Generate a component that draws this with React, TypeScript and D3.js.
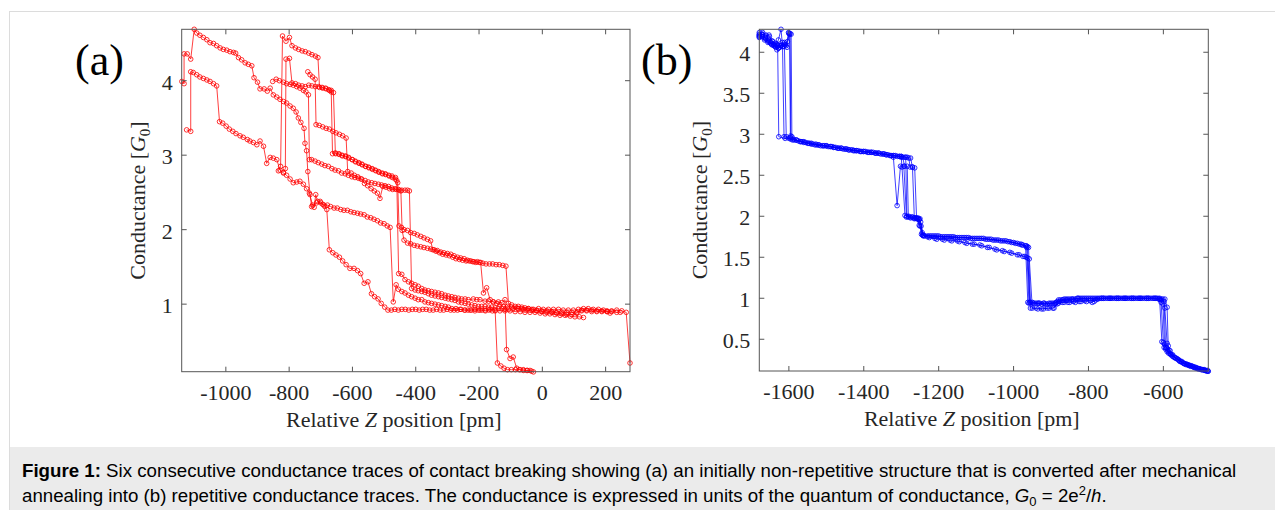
import React from 'react';
import * as d3 from 'd3';

type Pt = [number, number];

// (a) six breaking traces before annealing: [relative Z (pm), conductance (G0)]
const tracesA: Pt[][] = [
  [[-1139,3.99],[-1132,3.96],[-1132,4.36],[-1122,4.36],[-1111,4.29],[-1100,4.69],[-1092,4.64],[-1082,4.61],[-1071,4.58],[-1060,4.55],[-1050,4.51],[-1039,4.50],[-1029,4.47],[-1018,4.44],[-1008,4.42],[-997,4.41],[-987,4.39],[-976,4.38],[-969,4.37],[-960,4.31],[-950,4.28],[-939,4.24],[-929,4.22],[-918,4.20],[-911,4.04],[-900,3.98],[-892,3.89],[-879,3.89],[-869,3.86],[-860,3.90],[-850,3.81],[-839,3.78],[-829,3.75],[-818,3.72],[-808,3.70],[-797,3.66],[-787,3.63],[-778,3.58],[-771,3.50],[-763,3.44],[-753,3.36],[-750,3.16],[-745,3.06],[-741,2.78],[-734,2.47],[-729,2.31],[-721,2.30],[-716,2.47],[-710,2.38],[-702,2.38],[-694,2.34],[-687,2.31],[-681,2.27],[-673,1.73],[-662,1.69],[-652,1.66],[-641,1.63],[-631,1.58],[-620,1.53],[-608,1.48],[-595,1.48],[-584,1.45],[-574,1.41],[-563,1.28],[-551,1.30],[-540,1.14],[-530,1.10],[-519,1.07],[-509,1.01],[-498,0.96],[-488,0.92],[-477,0.92],[-466,0.93],[-455,0.92],[-444,0.93],[-433,0.93],[-422,0.92],[-411,0.93],[-400,0.93],[-389,0.92],[-378,0.93],[-367,0.93],[-356,0.92],[-345,0.92],[-334,0.93],[-323,0.92],[-312,0.92],[-301,0.93],[-290,0.92],[-279,0.92],[-268,0.92],[-257,0.93],[-246,0.92],[-235,0.92],[-224,0.92],[-213,0.91],[-202,0.92],[-191,0.92],[-180,0.91],[-169,0.92],[-158,0.91],[-149,0.91],[-142,0.21],[-131,0.17],[-121,0.14],[-110,0.12],[-98,0.12],[-85,0.12],[-73,0.12],[-60,0.11],[-47,0.11],[-34,0.10]],
  [[-1124,3.34],[-1111,3.32],[-1111,4.12],[-1103,4.11],[-1092,4.08],[-1082,4.05],[-1071,4.03],[-1060,4.01],[-1050,3.99],[-1039,3.96],[-1029,3.93],[-1020,3.45],[-1010,3.43],[-999,3.39],[-989,3.35],[-978,3.32],[-968,3.29],[-955,3.26],[-945,3.24],[-932,3.21],[-924,3.19],[-913,3.17],[-902,3.14],[-892,3.19],[-881,3.12],[-871,2.89],[-860,2.97],[-850,2.96],[-839,2.94],[-829,2.80],[-818,2.76],[-808,2.73],[-797,2.68],[-787,2.63],[-776,2.64],[-766,2.65],[-755,2.61],[-745,2.55],[-736,2.49],[-726,2.33],[-713,2.36],[-700,2.36],[-690,2.33],[-679,2.33],[-669,2.31],[-658,2.29],[-648,2.29],[-637,2.27],[-627,2.26],[-616,2.26],[-605,2.24],[-595,2.23],[-584,2.22],[-574,2.21],[-563,2.20],[-553,2.17],[-542,2.16],[-532,2.14],[-521,2.12],[-511,2.09],[-500,2.08],[-490,2.05],[-481,2.03],[-471,1.03],[-462,1.26],[-455,1.20],[-444,1.17],[-434,1.15],[-423,1.12],[-413,1.10],[-402,1.08],[-392,1.06],[-381,1.06],[-371,1.03],[-360,1.02],[-350,1.01],[-339,1.00],[-328,0.99],[-318,0.98],[-307,0.97],[-297,0.96],[-286,0.94],[-273,0.94],[-260,0.93],[-244,0.92],[-228,0.92],[-213,0.93],[-197,0.92],[-181,0.92],[-165,0.93],[-149,0.92],[-134,0.91],[-118,0.91],[-102,0.91],[-86,0.90],[-70,0.90],[-55,0.89],[-39,0.89],[-23,0.89],[-7,0.88],[9,0.87],[24,0.87],[40,0.86],[56,0.85],[72,0.85],[88,0.84],[103,0.83],[117,0.83],[130,0.82]],
  [[-852,3.99],[-841,4.02],[-831,4.00],[-818,3.98],[-808,3.96],[-797,3.95],[-787,3.94],[-776,3.92],[-766,3.90],[-755,3.87],[-747,3.85],[-739,3.81],[-736,2.94],[-729,2.94],[-718,2.92],[-708,2.90],[-697,2.88],[-687,2.86],[-676,2.85],[-665,2.82],[-655,2.80],[-644,2.79],[-634,2.76],[-623,2.75],[-613,2.73],[-602,2.71],[-592,2.70],[-581,2.69],[-571,2.68],[-560,2.66],[-550,2.64],[-539,2.63],[-529,2.62],[-518,2.61],[-508,2.60],[-497,2.59],[-486,2.58],[-476,2.56],[-465,2.55],[-455,2.54],[-444,2.53],[-434,2.53],[-426,2.53],[-420,2.52],[-413,1.21],[-402,1.19],[-392,1.18],[-381,1.17],[-371,1.16],[-360,1.14],[-350,1.12],[-339,1.11],[-328,1.10],[-318,1.09],[-307,1.08],[-297,1.07],[-286,1.06],[-276,1.05],[-265,1.03],[-255,1.02],[-244,1.01],[-234,1.00],[-223,0.99],[-213,0.98],[-202,0.97],[-192,0.97],[-181,0.97],[-170,0.96],[-160,0.96],[-149,0.95],[-139,0.94],[-128,0.94],[-118,0.93],[-107,0.93],[-92,0.94],[-76,0.94],[-60,0.93],[-44,0.94],[-28,0.93],[-12,0.94],[3,0.93],[19,0.93],[35,0.93],[51,0.93],[66,0.92],[82,0.92],[98,0.92],[114,0.93],[130,0.94],[145,0.94],[161,0.93],[177,0.93],[193,0.92],[206,0.90],[214,0.88]],
  [[-834,2.79],[-827,2.85],[-821,4.60],[-810,4.53],[-799,4.58],[-791,4.47],[-780,4.44],[-770,4.42],[-759,4.40],[-749,4.39],[-738,4.37],[-728,4.35],[-717,4.33],[-709,4.31],[-704,3.91],[-694,3.90],[-683,3.89],[-673,3.87],[-667,3.85],[-663,3.02],[-653,3.02],[-642,3.01],[-632,2.99],[-621,2.98],[-611,2.96],[-600,2.94],[-590,2.91],[-579,2.89],[-569,2.87],[-558,2.85],[-548,2.83],[-537,2.81],[-526,2.79],[-516,2.77],[-505,2.75],[-495,2.74],[-484,2.72],[-474,2.70],[-465,2.68],[-460,2.66],[-454,1.41],[-444,1.40],[-434,1.33],[-423,1.30],[-413,1.28],[-402,1.26],[-392,1.24],[-381,1.21],[-371,1.19],[-360,1.18],[-350,1.17],[-339,1.16],[-328,1.15],[-318,1.14],[-307,1.12],[-297,1.11],[-286,1.10],[-276,1.09],[-265,1.08],[-255,1.07],[-244,1.07],[-234,1.06],[-218,1.07],[-207,1.06],[-197,1.06],[-181,1.04],[-170,1.04],[-155,1.03],[-139,1.03],[-128,1.02],[-118,1.06],[-113,0.39],[-102,0.27],[-92,0.29],[-81,0.14],[-70,0.12],[-60,0.12],[-49,0.11],[-39,0.11],[-28,0.09]],
  [[-818,2.77],[-812,2.82],[-810,4.29],[-799,4.30],[-791,3.97],[-780,3.96],[-770,3.94],[-759,3.93],[-749,3.92],[-738,3.94],[-728,3.93],[-717,3.92],[-707,3.92],[-696,3.91],[-685,3.90],[-675,3.88],[-667,3.87],[-660,3.84],[-654,3.03],[-643,3.02],[-633,3.00],[-622,2.99],[-612,2.97],[-601,2.94],[-591,2.92],[-580,2.90],[-570,2.88],[-559,2.85],[-549,2.84],[-538,2.82],[-528,2.80],[-517,2.78],[-506,2.76],[-496,2.75],[-485,2.73],[-475,2.72],[-464,2.70],[-457,2.63],[-453,2.05],[-445,2.03],[-437,2.00],[-426,1.99],[-416,1.96],[-405,1.95],[-395,1.93],[-384,1.91],[-374,1.89],[-363,1.87],[-353,1.85],[-346,1.73],[-336,1.71],[-325,1.69],[-315,1.67],[-304,1.66],[-294,1.65],[-283,1.63],[-273,1.61],[-262,1.60],[-252,1.59],[-241,1.58],[-231,1.58],[-220,1.57],[-210,1.56],[-199,1.56],[-188,1.55],[-178,1.54],[-167,1.54],[-157,1.54],[-146,1.53],[-136,1.53],[-125,1.52],[-115,1.51],[-107,1.01],[-97,0.99],[-86,0.97],[-76,0.97],[-65,0.96],[-55,0.95],[-44,0.94],[-33,0.93],[-18,0.92],[-2,0.91],[14,0.91],[30,0.90],[45,0.89],[61,0.89],[77,0.89],[93,0.89],[109,0.89],[124,0.92],[140,0.92],[156,0.92],[172,0.91],[188,0.91],[204,0.91],[219,0.91],[235,0.92],[251,0.91],[265,0.89],[277,0.21]],
  [[-741,4.12],[-734,4.08],[-726,4.05],[-718,4.02],[-715,3.41],[-705,3.40],[-694,3.38],[-683,3.36],[-673,3.35],[-662,3.32],[-652,3.30],[-641,3.28],[-631,3.26],[-620,3.23],[-615,2.78],[-604,2.76],[-594,2.73],[-583,2.71],[-573,2.68],[-562,2.62],[-552,2.59],[-541,2.55],[-531,2.52],[-521,2.49],[-513,2.42],[-504,2.58],[-494,2.57],[-483,2.55],[-473,2.54],[-462,2.54],[-452,2.53],[-447,2.52],[-443,1.99],[-437,1.86],[-426,1.82],[-416,1.81],[-405,1.79],[-395,1.78],[-384,1.77],[-374,1.76],[-363,1.75],[-353,1.74],[-342,1.73],[-332,1.72],[-321,1.70],[-311,1.69],[-300,1.68],[-289,1.67],[-279,1.65],[-268,1.63],[-258,1.62],[-247,1.61],[-237,1.59],[-226,1.58],[-216,1.57],[-205,1.57],[-195,1.56],[-186,1.15],[-176,1.22],[-165,1.06],[-155,1.03],[-144,1.01],[-134,0.99],[-123,0.97],[-110,0.97],[-97,0.96],[-81,0.95],[-65,0.94],[-49,0.93],[-34,0.92],[-18,0.91],[-2,0.90],[14,0.89],[30,0.89],[45,0.88],[61,0.87],[77,0.86],[93,0.86],[109,0.88],[124,0.91],[140,0.91],[156,0.90],[172,0.90],[188,0.90],[204,0.90],[219,0.90],[235,0.89],[246,0.89]],
];

// (b) six traces after mechanical annealing
const tracesB: Pt[][] = [
  [[-1679,4.22],[-1670,4.24],[-1661,4.21],[-1652,4.19],[-1643,4.13],[-1636,4.09],[-1630,4.08],[-1627,2.97],[-1610,2.95],[-1590,2.93],[-1570,2.91],[-1550,2.89],[-1530,2.87],[-1510,2.86],[-1490,2.85],[-1470,2.83],[-1450,2.82],[-1430,2.81],[-1410,2.79],[-1390,2.78],[-1370,2.77],[-1350,2.76],[-1330,2.74],[-1321,2.72],[-1311,2.13],[-1302,2.61],[-1293,2.61],[-1286,1.99],[-1276,1.99],[-1266,1.98],[-1256,1.97],[-1250,1.88],[-1243,1.77],[-1225,1.76],[-1205,1.76],[-1185,1.75],[-1165,1.75],[-1145,1.74],[-1125,1.74],[-1105,1.73],[-1085,1.73],[-1065,1.72],[-1045,1.71],[-1025,1.70],[-1005,1.68],[-985,1.66],[-968,1.64],[-962,0.95],[-950,0.95],[-935,0.94],[-920,0.94],[-905,0.94],[-890,0.94],[-880,0.98],[-865,0.99],[-850,0.99],[-835,0.99],[-820,1.0],[-800,1.0],[-780,1.0],[-760,1.0],[-740,1.0],[-720,1.0],[-700,1.0],[-680,1.0],[-660,1.0],[-640,1.0],[-620,1.0],[-610,0.99],[-604,0.47],[-598,0.40],[-590,0.35],[-580,0.31],[-568,0.27],[-556,0.23],[-544,0.20],[-532,0.18],[-520,0.16],[-508,0.14],[-496,0.13],[-484,0.11]],
  [[-1679,4.20],[-1671,4.21],[-1663,4.17],[-1655,4.15],[-1647,4.10],[-1639,4.08],[-1633,4.10],[-1628,4.15],[-1621,4.28],[-1617,4.07],[-1613,2.97],[-1600,2.95],[-1580,2.93],[-1560,2.90],[-1540,2.88],[-1520,2.87],[-1500,2.86],[-1480,2.84],[-1460,2.83],[-1440,2.81],[-1420,2.80],[-1400,2.79],[-1380,2.78],[-1360,2.77],[-1340,2.75],[-1320,2.74],[-1305,2.73],[-1296,2.72],[-1291,2.61],[-1284,2.61],[-1281,1.99],[-1271,1.99],[-1261,1.98],[-1252,1.89],[-1240,1.77],[-1220,1.76],[-1200,1.76],[-1180,1.75],[-1160,1.75],[-1140,1.74],[-1120,1.74],[-1100,1.73],[-1080,1.73],[-1060,1.72],[-1040,1.71],[-1020,1.70],[-1000,1.68],[-980,1.66],[-963,1.63],[-957,0.95],[-945,0.94],[-930,0.94],[-915,0.93],[-900,0.94],[-886,0.95],[-875,0.98],[-860,0.99],[-845,0.99],[-830,1.0],[-810,1.0],[-790,1.0],[-770,1.0],[-750,1.0],[-730,1.0],[-710,1.0],[-690,1.0],[-670,1.0],[-650,1.0],[-630,1.0],[-612,0.99],[-606,0.95],[-600,0.46],[-594,0.38],[-586,0.33],[-575,0.29],[-563,0.26],[-551,0.22],[-539,0.19],[-527,0.17],[-515,0.15],[-503,0.14],[-491,0.12],[-481,0.11]],
  [[-1679,4.18],[-1672,4.19],[-1665,4.15],[-1657,4.14],[-1650,4.12],[-1642,4.10],[-1635,4.06],[-1628,4.05],[-1620,4.08],[-1612,4.10],[-1607,2.97],[-1595,2.94],[-1575,2.92],[-1555,2.90],[-1535,2.88],[-1515,2.86],[-1495,2.85],[-1475,2.84],[-1455,2.82],[-1435,2.81],[-1415,2.80],[-1395,2.79],[-1375,2.78],[-1355,2.76],[-1335,2.75],[-1315,2.74],[-1300,2.73],[-1288,2.72],[-1285,2.00],[-1275,1.98],[-1265,1.97],[-1255,1.98],[-1248,1.93],[-1242,1.77],[-1230,1.76],[-1210,1.76],[-1190,1.75],[-1170,1.75],[-1150,1.74],[-1130,1.74],[-1110,1.73],[-1090,1.73],[-1070,1.72],[-1050,1.71],[-1030,1.70],[-1010,1.69],[-990,1.67],[-975,1.65],[-965,1.62],[-959,0.94],[-948,0.94],[-933,0.94],[-918,0.94],[-903,0.93],[-888,0.94],[-878,0.96],[-868,0.98],[-855,0.99],[-840,0.99],[-825,1.0],[-805,1.0],[-785,1.0],[-765,1.0],[-745,1.0],[-725,1.0],[-705,1.0],[-685,1.0],[-665,1.0],[-645,1.0],[-625,1.0],[-608,0.98],[-601,0.93],[-597,0.44],[-591,0.39],[-583,0.33],[-571,0.28],[-559,0.25],[-547,0.21],[-535,0.19],[-523,0.17],[-511,0.15],[-499,0.13],[-488,0.12]],
  [[-1679,4.24],[-1671,4.22],[-1662,4.20],[-1653,4.21],[-1645,4.14],[-1637,4.11],[-1630,4.09],[-1622,4.08],[-1614,4.07],[-1607,4.08],[-1601,4.24],[-1597,4.23],[-1595,2.98],[-1585,2.93],[-1565,2.91],[-1545,2.89],[-1525,2.87],[-1505,2.86],[-1485,2.85],[-1465,2.83],[-1445,2.82],[-1425,2.80],[-1405,2.79],[-1385,2.78],[-1365,2.77],[-1345,2.76],[-1325,2.74],[-1305,2.73],[-1290,2.72],[-1280,2.71],[-1276,2.60],[-1270,2.60],[-1265,1.98],[-1256,1.97],[-1250,1.97],[-1244,1.80],[-1238,1.76],[-1215,1.76],[-1195,1.75],[-1175,1.75],[-1155,1.74],[-1135,1.74],[-1115,1.73],[-1095,1.73],[-1075,1.72],[-1055,1.71],[-1035,1.70],[-1015,1.69],[-995,1.67],[-978,1.65],[-966,1.64],[-960,1.62],[-955,0.95],[-940,0.94],[-925,0.93],[-910,0.93],[-895,0.94],[-883,0.96],[-870,0.98],[-858,0.98],[-843,0.99],[-828,1.0],[-815,1.0],[-795,1.0],[-775,1.0],[-755,1.0],[-735,1.0],[-715,1.0],[-695,1.0],[-675,1.0],[-655,1.0],[-635,1.0],[-615,1.0],[-601,0.99],[-596,0.88],[-590,0.45],[-585,0.37],[-578,0.31],[-566,0.27],[-554,0.23],[-542,0.20],[-530,0.18],[-518,0.16],[-506,0.14],[-494,0.13],[-482,0.12]],
  [[-1679,4.21],[-1670,4.19],[-1662,4.16],[-1653,4.13],[-1645,4.09],[-1636,4.07],[-1628,4.05],[-1620,4.09],[-1612,4.12],[-1605,4.06],[-1600,4.23],[-1594,4.22],[-1592,2.97],[-1580,2.93],[-1560,2.91],[-1540,2.89],[-1520,2.87],[-1500,2.86],[-1480,2.84],[-1460,2.83],[-1440,2.81],[-1420,2.80],[-1400,2.79],[-1380,2.78],[-1360,2.77],[-1340,2.75],[-1320,2.74],[-1300,2.73],[-1284,2.72],[-1275,2.71],[-1270,2.60],[-1264,2.59],[-1259,1.97],[-1252,1.96],[-1247,1.88],[-1241,1.76],[-1225,1.74],[-1205,1.72],[-1185,1.71],[-1165,1.70],[-1145,1.69],[-1125,1.67],[-1105,1.66],[-1085,1.64],[-1065,1.62],[-1045,1.59],[-1025,1.57],[-1005,1.55],[-985,1.53],[-970,1.51],[-962,1.49],[-955,0.88],[-940,0.88],[-925,0.87],[-910,0.88],[-895,0.88],[-884,0.93],[-870,0.95],[-855,0.95],[-840,0.96],[-825,0.96],[-810,0.97],[-795,0.97],[-785,0.96],[-775,0.99],[-760,1.0],[-740,1.0],[-720,1.0],[-700,1.0],[-680,1.0],[-660,1.0],[-640,1.0],[-620,1.0],[-605,0.99],[-598,0.96],[-594,0.40],[-588,0.36],[-581,0.32],[-570,0.28],[-558,0.24],[-546,0.21],[-534,0.19],[-522,0.17],[-510,0.15],[-498,0.13],[-486,0.12]],
  [[-1679,4.19],[-1671,4.22],[-1663,4.18],[-1656,4.12],[-1648,4.11],[-1640,4.08],[-1632,4.03],[-1624,4.06],[-1617,4.12],[-1610,4.09],[-1604,4.13],[-1598,4.22],[-1596,2.96],[-1588,2.94],[-1568,2.91],[-1548,2.89],[-1528,2.88],[-1508,2.86],[-1488,2.85],[-1468,2.83],[-1448,2.82],[-1428,2.80],[-1408,2.79],[-1388,2.78],[-1368,2.77],[-1348,2.76],[-1328,2.74],[-1310,2.73],[-1300,2.72],[-1298,2.60],[-1290,2.01],[-1280,2.00],[-1270,1.99],[-1260,1.98],[-1252,1.96],[-1246,1.78],[-1230,1.75],[-1210,1.73],[-1190,1.72],[-1170,1.71],[-1150,1.70],[-1130,1.68],[-1110,1.66],[-1090,1.65],[-1070,1.62],[-1050,1.60],[-1030,1.58],[-1010,1.56],[-990,1.53],[-975,1.51],[-966,1.50],[-958,1.48],[-950,0.88],[-935,0.87],[-920,0.87],[-905,0.88],[-892,0.88],[-880,0.94],[-865,0.95],[-850,0.95],[-835,0.95],[-820,0.96],[-805,0.96],[-790,0.95],[-780,0.98],[-765,1.0],[-745,1.0],[-725,1.0],[-705,1.0],[-685,1.0],[-665,1.0],[-645,1.0],[-625,1.0],[-610,1.0],[-596,0.99],[-590,0.89],[-587,0.42],[-582,0.36],[-575,0.31],[-563,0.26],[-551,0.23],[-539,0.20],[-527,0.18],[-515,0.16],[-503,0.14],[-491,0.13],[-480,0.11]],
];

const xTicksA = [-1000, -800, -600, -400, -200, 0, 200];
const yTicksA = [1, 2, 3, 4];
const xTicksB = [-1600, -1400, -1200, -1000, -800, -600];
const yTicksB = [0.5, 1, 1.5, 2, 2.5, 3, 3.5, 4];

const serif = '"Liberation Serif", "Times New Roman", Times, serif';
const sans = '"Liberation Sans", Arial, Helvetica, sans-serif';
const axisColor = '#555';
const textColor = '#262626';

function Panel({ traces, left, right, top, bottom, xDomain, yDomain, xTicks, yTicks, color, tag, tagX, titleX }: any) {
  const x = d3.scaleLinear().domain(xDomain).range([left, right]);
  const y = d3.scaleLinear().domain(yDomain).range([bottom, top]);
  const line = d3.line<Pt>().x(d => x(d[0])).y(d => y(d[1]));
  const tick = 5;

  return (
    <g>
      {traces.map((t: Pt[], i: number) => (
        <g key={i}>
          <path d={line(t) || ''} fill="none" stroke={color} strokeWidth={0.75} />
          {t.map((d, j) => (
            <circle key={j} cx={x(d[0])} cy={y(d[1])} r={2.3} fill="none" stroke={color} strokeWidth={0.8} />
          ))}
        </g>
      ))}

      <rect x={left} y={top} width={right - left} height={bottom - top} fill="none" stroke={axisColor} strokeWidth={1} />

      {xTicks.map((v: number) => (
        <g key={'x' + v}>
          <line x1={x(v)} x2={x(v)} y1={bottom} y2={bottom - tick} stroke={axisColor} />
          <line x1={x(v)} x2={x(v)} y1={top} y2={top + tick} stroke={axisColor} />
          <text x={x(v)} y={bottom + 28} textAnchor="middle" fontFamily={serif} fontSize={22} fill={textColor}>{String(v)}</text>
        </g>
      ))}
      {yTicks.map((v: number) => (
        <g key={'y' + v}>
          <line x1={left} x2={left + tick} y1={y(v)} y2={y(v)} stroke={axisColor} />
          <line x1={right} x2={right - tick} y1={y(v)} y2={y(v)} stroke={axisColor} />
          <text x={left - 9} y={y(v) + 9} textAnchor="end" fontFamily={serif} fontSize={22} fill={textColor}>{String(v)}</text>
        </g>
      ))}

      <text x={(left + right) / 2 - 12} y={bottom + 55} textAnchor="middle" fontFamily={serif} fontSize={22} fill={textColor}>
        Relative <tspan fontStyle="italic">Z</tspan> position [pm]
      </text>
      <text transform={`translate(${titleX},${(top + bottom) / 2}) rotate(-90)`} textAnchor="middle" fontFamily={serif} fontSize={22} fill={textColor}>
        Conductance [<tspan fontStyle="italic">G</tspan><tspan fontSize={15} dy={5}>0</tspan><tspan dy={-5}>]</tspan>
      </text>

      <text x={tagX} y={75} fontFamily={serif} fontSize={44} fill="#000">{tag}</text>
    </g>
  );
}

export default function App() {
  return (
    <div style={{ position: 'absolute', left: 0, top: 0 }}>
      <svg width={1275} height={510} style={{ display: 'block' }}>
        <rect x={0} y={0} width={1275} height={510} fill="#fff" />
        <rect x={9.5} y={11.5} width={1300} height={600} fill="#fff" stroke="#dcdcdc" />
        <rect x={10} y={447} width={1265} height={63} fill="#ebebeb" />

        <Panel traces={tracesA} left={181.7} right={630} top={29.3} bottom={371.7}
          xDomain={[-1139.5, 277]} yDomain={[0.093, 4.69]} xTicks={xTicksA} yTicks={yTicksA}
          color="#ff0000" tag="(a)" tagX={75} titleX={145} />
        <Panel traces={tracesB} left={759.3} right={1208.3} top={29.3} bottom={371}
          xDomain={[-1679, -480]} yDomain={[0.113, 4.28]} xTicks={xTicksB} yTicks={yTicksB}
          color="#0000ff" tag="(b)" tagX={641} titleX={707} />

        <text x={22} y={477} fontFamily={sans} fontSize={18.7} fill="#000">
          <tspan fontWeight="bold">Figure 1:</tspan> Six consecutive conductance traces of contact breaking showing (a) an initially non-repetitive structure that is converted after mechanical
        </text>
        <text x={22} y={502} fontFamily={sans} fontSize={18.7} fill="#000">
          annealing into (b) repetitive conductance traces. The conductance is expressed in units of the quantum of conductance, <tspan fontStyle="italic">G</tspan><tspan fontSize={13} dy={4}>0</tspan><tspan dy={-4}> = 2e</tspan><tspan fontSize={13} dy={-7}>2</tspan><tspan dy={7}>/</tspan><tspan fontStyle="italic">h</tspan>.
        </text>
      </svg>
    </div>
  );
}
